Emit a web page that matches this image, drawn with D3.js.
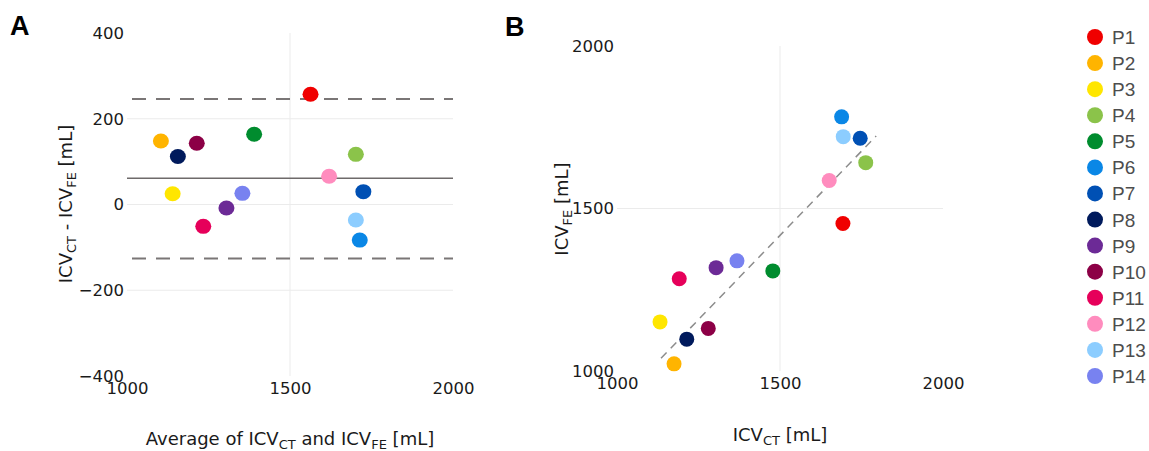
<!DOCTYPE html>
<html>
<head>
<meta charset="utf-8">
<script src="https://cdn.jsdelivr.net/npm/d3@7"></script>
<style>
  body { margin: 0; background: #fff; }
  svg text { font-family: "DejaVu Sans", Verdana, sans-serif; }
</style>
</head>
<body>
<div id="chart"></div>
<script>
// participants and colours
const patients = ["P1", "P2", "P3", "P4", "P5", "P6", "P7", "P8", "P9", "P10", "P11", "P12", "P13", "P14"];
const colors = ["#f00000", "#ffb400", "#ffe600", "#8bc34a", "#008c2e", "#0a87e6", "#0050b4", "#001a5c",
                "#6c2a96", "#8c0046", "#e6005a", "#ff8cbe", "#8ccdff", "#7882f0"];

// panel A: Bland-Altman
const baMean = [1563, 1104, 1140, 1702, 1390, 1714, 1725, 1156, 1305, 1214, 1234, 1620, 1702, 1354];
const baDiff = [257, 148, 25, 117, 164, -83, 30, 112, -8, 143, -51, 66, -36, 26];
const baBias = 61;
const baLimits = [246, -126];

// panel B: ICV_CT vs ICV_FE
const icvCT = [1693, 1175, 1132, 1763, 1478, 1689, 1746, 1214, 1304, 1280, 1191, 1651, 1694, 1368];
const icvFE = [1454, 1022, 1151, 1641, 1308, 1782, 1716, 1098, 1318, 1131, 1284, 1586, 1721, 1339];
const fitX = [1135, 1795];
const fitY = [1039, 1723];

const xTicks = [1000, 1500, 2000];
const aYTicks = [-400, -200, 0, 200, 400];
const bYTicks = [1000, 1500, 2000];

const width = 1149, height = 451;
const svg = d3.select("#chart").append("svg")
    .attr("width", width)
    .attr("height", height);

const fmt = d => (d < 0 ? "\u2212" : "") + Math.abs(d);

function subLabel(sel, parts) {
    // parts: [text, sub, text, sub, ...]
    parts.forEach((p, i) => {
        const t = sel.append("tspan").text(p);
        if (i % 2 === 1) t.attr("font-size", "13px").attr("dy", "4");
        else if (i > 0) t.attr("dy", "-4");
    });
}

function gridAndTicks(g, x, y, yTicks, gridX, gridY, left) {
    g.selectAll(".gx").data(gridX).enter().append("line")
        .attr("x1", d => x(d)).attr("x2", d => x(d))
        .attr("y1", y.range()[1]).attr("y2", y.range()[0])
        .attr("stroke", "#ebebeb").attr("stroke-width", 1);
    g.selectAll(".gy").data(gridY).enter().append("line")
        .attr("x1", x.range()[0]).attr("x2", x.range()[1])
        .attr("y1", d => y(d)).attr("y2", d => y(d))
        .attr("stroke", "#ebebeb").attr("stroke-width", 1);

    const xa = g.append("g")
        .attr("transform", "translate(0," + (y.range()[0] + 6) + ")")
        .call(d3.axisBottom(x).tickValues(xTicks).tickFormat(fmt).tickSize(0).tickPadding(0));
    xa.select(".domain").remove();
    xa.selectAll("text").attr("font-size", "16.5px").attr("fill", "#1a1a1a")
        .style("font-family", "DejaVu Sans, Verdana, sans-serif");

    const ya = g.append("g")
        .attr("transform", "translate(" + left + ",0)")
        .call(d3.axisLeft(y).tickValues(yTicks).tickFormat(fmt).tickSize(0).tickPadding(0));
    ya.select(".domain").remove();
    ya.selectAll("text").attr("font-size", "16.5px").attr("fill", "#1a1a1a")
        .style("font-family", "DejaVu Sans, Verdana, sans-serif");
}

// ---------- panel A ----------
const xA = d3.scaleLinear().domain([1000, 2000]).range([127, 453]);
const yA = d3.scaleLinear().domain([-400, 400]).range([376, 33]);
const gA = svg.append("g");

gridAndTicks(gA, xA, yA, aYTicks, [1500], [-200, 0, 200], 124);

gA.selectAll(".lim").data(baLimits).enter().append("line")
    .attr("x1", xA(1000)).attr("x2", xA(2000))
    .attr("y1", d => yA(d)).attr("y2", d => yA(d))
    .attr("stroke", "#7a7676").attr("stroke-width", 2)
    .attr("stroke-dasharray", "14,10").attr("stroke-dashoffset", -5);
gA.append("line")
    .attr("x1", xA(1000)).attr("x2", xA(2000))
    .attr("y1", yA(baBias)).attr("y2", yA(baBias))
    .attr("stroke", "#6e6a6a").attr("stroke-width", 1.5);

gA.selectAll(".pt").data(patients).enter().append("ellipse")
    .attr("cx", (d, i) => xA(baMean[i]))
    .attr("cy", (d, i) => yA(baDiff[i]))
    .attr("rx", 8).attr("ry", 7.5)
    .attr("fill", (d, i) => colors[i]);

const aXTitle = gA.append("text").attr("x", 290).attr("y", 445)
    .attr("text-anchor", "middle").attr("font-size", "18px").attr("fill", "#1a1a1a");
subLabel(aXTitle, ["Average of ICV", "CT", " and ICV", "FE", " [mL]"]);

const aYTitle = gA.append("text")
    .attr("transform", "translate(72,204) rotate(-90)")
    .attr("text-anchor", "middle").attr("font-size", "18px").attr("fill", "#1a1a1a");
subLabel(aYTitle, ["ICV", "CT", " - ICV", "FE", " [mL]"]);

svg.append("text").attr("x", 10).attr("y", 35)
    .style("font-family", "Liberation Sans, Arial, sans-serif")
    .attr("font-weight", "bold").attr("font-size", "27px").text("A");

// ---------- panel B ----------
const xB = d3.scaleLinear().domain([1000, 2000]).range([617, 943]);
const yB = d3.scaleLinear().domain([1000, 2000]).range([371, 46]);
const gB = svg.append("g");

gridAndTicks(gB, xB, yB, bYTicks, [1500], [1500], 614);

gB.append("line")
    .attr("x1", xB(fitX[0])).attr("x2", xB(fitX[1]))
    .attr("y1", yB(fitY[0])).attr("y2", yB(fitY[1]))
    .attr("stroke", "#8c8c8c").attr("stroke-width", 1.5)
    .attr("stroke-dasharray", "8,6");

gB.selectAll(".pt").data(patients).enter().append("circle")
    .attr("cx", (d, i) => xB(icvCT[i]))
    .attr("cy", (d, i) => yB(icvFE[i]))
    .attr("r", 7.5)
    .attr("fill", (d, i) => colors[i]);

const bXTitle = gB.append("text").attr("x", 780).attr("y", 441)
    .attr("text-anchor", "middle").attr("font-size", "18px").attr("fill", "#1a1a1a");
subLabel(bXTitle, ["ICV", "CT", " [mL]"]);

const bYTitle = gB.append("text")
    .attr("transform", "translate(568,209) rotate(-90)")
    .attr("text-anchor", "middle").attr("font-size", "18px").attr("fill", "#1a1a1a");
subLabel(bYTitle, ["ICV", "FE", " [mL]"]);

svg.append("text").attr("x", 505).attr("y", 36)
    .style("font-family", "Liberation Sans, Arial, sans-serif")
    .attr("font-weight", "bold").attr("font-size", "27px").text("B");

// ---------- legend ----------
const legY = d3.scalePoint().domain(patients).range([37, 376]);
const leg = svg.append("g").selectAll("g").data(patients).enter().append("g")
    .attr("transform", d => "translate(1095," + legY(d) + ")");
leg.append("circle").attr("r", 8).attr("fill", (d, i) => colors[i]);
leg.append("text").attr("x", 17).attr("y", 7)
    .style("font-family", "Liberation Sans, Arial, sans-serif")
    .attr("font-size", "19px").attr("fill", "#4d4d4d").text(d => d);
</script>
</body>
</html>
